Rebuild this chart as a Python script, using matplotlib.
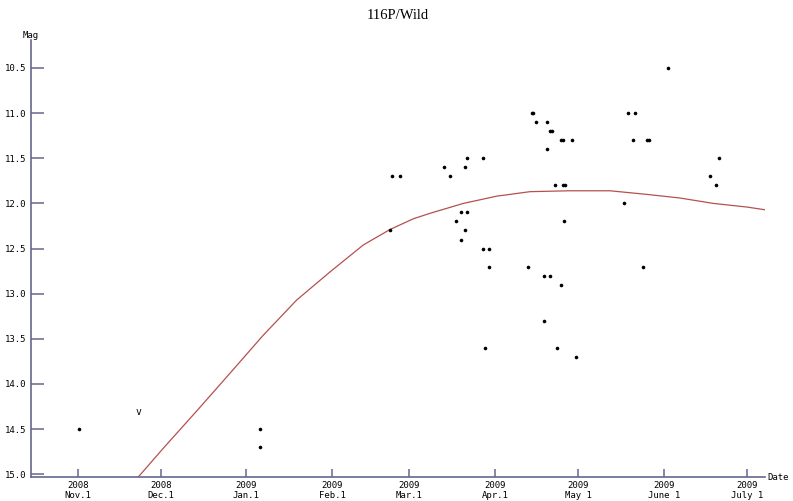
import matplotlib
matplotlib.use('Agg')
import matplotlib.pyplot as plt
import numpy as np
import pandas as pd

# x values are days after 2008 Nov 1
start = pd.Timestamp('2008-11-01')

obs_day = [0.5, 65.9, 65.9,
           112.8, 113.7, 116.7, 132.6, 134.6, 136.8, 138.6, 138.6,
           140.0, 140.0, 140.8, 140.8, 146.7, 146.7, 147.3, 148.9, 148.9,
           162.7, 164.2, 164.8, 165.8, 168.7, 168.7, 169.6, 169.6, 170.7,
           170.8, 171.6, 172.7, 173.3, 174.7, 174.8, 175.4, 175.6, 175.8,
           176.3, 178.7, 180.2,
           197.7, 198.9, 200.7, 201.7, 204.3, 205.8, 206.6, 213.6,
           228.6, 230.8, 231.8]
obs_mag = [14.5, 14.5, 14.7,
           12.3, 11.7, 11.7, 11.6, 11.7, 12.2, 12.1, 12.4,
           11.6, 12.3, 11.5, 12.1, 11.5, 12.5, 13.6, 12.5, 12.7,
           12.7, 11.0, 11.0, 11.1, 12.8, 13.3, 11.1, 11.4, 12.8,
           11.2, 11.2, 11.8, 13.6, 12.9, 11.3, 11.8, 11.3, 12.2,
           11.8, 11.3, 13.7,
           12.0, 11.0, 11.3, 11.0, 12.7, 11.3, 11.3, 10.5,
           11.7, 11.8, 11.5]

# fainter-than estimate, drawn as "v"
limit_day = [21.9]
limit_mag = [14.31]

# fitted light curve
curve_day = [21.9, 31.0, 43.0, 55.1, 67.1, 79.2, 91.2, 103.3, 112.9, 121.4,
             127.4, 139.5, 151.5, 163.6, 178.0, 192.5, 205.8, 217.8, 229.9,
             242.0, 248.5]
curve_mag = [15.03, 14.71, 14.30, 13.88, 13.46, 13.07, 12.76, 12.46, 12.29, 12.17,
             12.11, 12.00, 11.92, 11.87, 11.86, 11.86, 11.90, 11.94, 12.00,
             12.04, 12.07]

tick_dates = ['2008-11-01', '2008-12-01', '2009-01-01', '2009-02-01', '2009-03-01',
              '2009-04-01', '2009-05-01', '2009-06-01', '2009-07-01']
tick_names = ['Nov.1', 'Dec.1', 'Jan.1', 'Feb.1', 'Mar.1', 'Apr.1', 'May 1', 'June 1', 'July 1']
mag_ticks = [10.5, 11.0, 11.5, 12.0, 12.5, 13.0, 13.5, 14.0, 14.5, 15.0]

tick_days = (pd.to_datetime(tick_dates) - start).days
tick_labels = ['%d\n%s' % (d.year, n) for d, n in zip(pd.to_datetime(tick_dates), tick_names)]

axis_col = '#66668f'
mono = 'DejaVu Sans Mono'

fig = plt.figure(figsize=(7.93, 5.01), dpi=100)
ax = fig.add_axes([0.0391, 0.0479, 0.9256, 0.8723])

ax.plot(curve_day, curve_mag, color='#b5504f', lw=0.9)
ax.plot(obs_day, obs_mag, 'o', color='black', ms=2.6, mew=0)
for d, m in zip(limit_day, limit_mag):
    ax.text(d, m, 'v', ha='center', va='center', fontsize=7, family=mono)

ax.set_xlim(-16.9, 248.6)
ax.set_ylim(15.03, 10.19)

for s in ['top', 'right']:
    ax.spines[s].set_visible(False)
for s in ['left', 'bottom']:
    ax.spines[s].set_color(axis_col)
    ax.spines[s].set_linewidth(1.2)

ax.set_yticks(mag_ticks)
ax.set_yticklabels(['%.1f' % m for m in mag_ticks])
ax.set_xticks(tick_days)
ax.set_xticklabels(tick_labels, linespacing=1.05)
ax.tick_params(axis='y', direction='in', length=9.5, width=1.1, color=axis_col,
               pad=3, labelsize=6.5)
ax.tick_params(axis='x', direction='in', length=5.5, width=1.1, color=axis_col,
               pad=3, labelsize=6.5)
for lab in ax.get_xticklabels() + ax.get_yticklabels():
    lab.set_family(mono)

ax.text(0, 1.0, 'Mag', transform=ax.transAxes, ha='center', va='bottom',
        fontsize=6.5, family=mono)
ax.text(1.003, 0, 'Date', transform=ax.transAxes, ha='left', va='center',
        fontsize=6.5, family=mono)
fig.text(0.502, 0.97, '116P/Wild', ha='center', va='center', fontsize=10.5,
         family='Liberation Serif')

plt.savefig('out.png', dpi=100)
